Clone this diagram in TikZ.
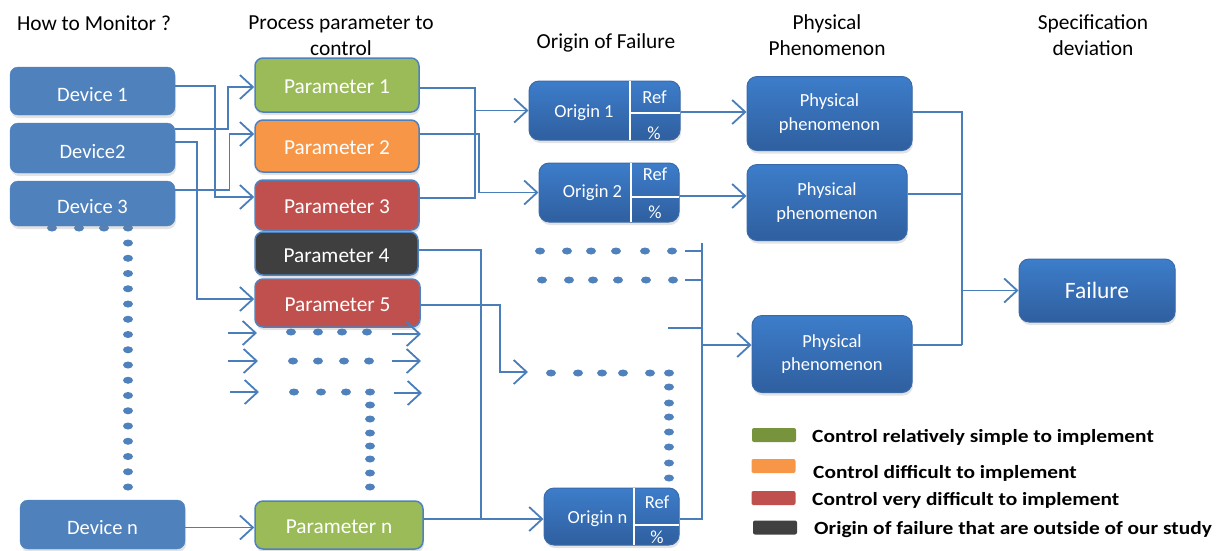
\documentclass[tikz,border=0pt]{standalone}
\usepackage{fontspec}
\setmainfont{Carlito}
\newfontfamily\legfont[FakeStretch=1.15]{Carlito}
\usetikzlibrary{arrows.meta,shadows,calc}
\definecolor{devblue}{HTML}{4F81BD}
\definecolor{linec}{HTML}{4A7EBB}
\definecolor{pgreen}{HTML}{9BBB59}
\definecolor{porange}{HTML}{F79646}
\definecolor{pred}{HTML}{C0504D}
\definecolor{pdark}{HTML}{3F3F3F}
\definecolor{gtop}{HTML}{3D7DCA}
\definecolor{gbot}{HTML}{2F5F9F}
\definecolor{gborder}{HTML}{3A6AAA}
\definecolor{lgreen}{HTML}{77933C}
\definecolor{ldark}{HTML}{404040}
\tikzset{
  shadowed/.style={drop shadow={opacity=0.22,shadow xshift=1pt,shadow yshift=-3pt}},
  devbox/.style={shadowed,fill=devblue,draw=devblue,rounded corners=8pt,text=white,inner sep=0pt,
    font=\fontsize{20.5}{24}\selectfont,text height=20pt,text depth=0pt},
  parbox/.style={shadowed,draw=devblue,line width=1.5pt,rounded corners=8pt,text=white,inner sep=0pt,
    font=\fontsize{21.3}{24}\selectfont,text height=17pt,text depth=0pt},
  gradbox/.style={shadowed,top color=gtop,bottom color=gbot,draw=gborder,line width=1pt,
    rounded corners=10pt,text=white,inner sep=0pt},
  pptext/.style={align=center,font=\fontsize{18.5}{23.5}\selectfont},
  otext/.style={text=white,font=\fontsize{18.5}{22}\selectfont,anchor=base,inner sep=0pt},
  header/.style={font=\fontsize{21.4}{25.5}\selectfont,align=center,anchor=base,inner sep=0pt},
  conn/.style={draw=linec,line width=1.8pt},
  arr/.style={conn,-{Straight Barb[length=13pt,width=24pt]}},
  divider/.style={draw=white,line width=1.6pt},
  swatch/.style={rounded corners=2pt,minimum width=44pt,minimum height=14pt,inner sep=0pt},
  legtext/.style={font=\fontsize{18.6}{22}\legfont\bfseries,anchor=base west,inner sep=0pt},
  dotc/.style={fill=devblue}
}
\begin{document}
\begin{tikzpicture}[x=1pt,y=-1pt]
\useasboundingbox (0,0) rectangle (1220,550);

% headers (base anchor = baseline of last line)
\node[header] (h1) at (94,30) {How to Monitor ?};
\node[header] (h2) at (341,55) {Process parameter to\\control};
\node[header] (h3) at (606,48) {Origin of Failure};
\node[header] (h4) at (827,55) {Physical\\Phenomenon};
\node[header] (h5) at (1093,55) {Specification\\deviation};

% dots under device 3
\foreach \x in {52,79,104,128} \fill[dotc] (\x,228) ellipse [x radius=5pt,y radius=3.5pt];
\foreach \i in {0,...,16} \fill[dotc] (128,243+\i*15.25) ellipse [x radius=5pt,y radius=3.5pt];

% devices
\node[devbox,minimum width=165pt,minimum height=48pt] (dev1) at (92.5,91) {Device 1};
\node[devbox,minimum width=165pt,minimum height=50pt] (dev2) at (92.5,148) {Device2};
\node[devbox,minimum width=165pt,minimum height=45pt] (dev3) at (92.5,203.5) {Device 3};
\node[devbox,minimum width=165pt,minimum height=49pt] (devn) at (102.5,524.5) {Device n};

% parameters
\node[parbox,fill=pgreen,minimum width=164pt,minimum height=54pt] (p1) at (337,85) {Parameter 1};
\node[parbox,fill=porange,minimum width=164pt,minimum height=52pt] (p2) at (337,146) {Parameter 2};
\node[parbox,fill=pred,minimum width=164pt,minimum height=50pt] (p3) at (337,205) {Parameter 3};
\node[parbox,fill=pdark,minimum width=163pt,minimum height=43pt] (p4) at (336.5,253.5) {Parameter 4};
\node[parbox,fill=pred,minimum width=165pt,minimum height=48pt] (p5) at (337.5,303) {Parameter 5};
\node[parbox,fill=pgreen,minimum width=168pt,minimum height=48pt] (pn) at (339,525) {Parameter n};

% dots beside parameters
\foreach \x in {291,318,342,367} \fill[dotc] (\x,332) ellipse [x radius=5pt,y radius=3.5pt];
\foreach \x in {293,318,344,369} \fill[dotc] (\x,361) ellipse [x radius=5pt,y radius=3.5pt];
\foreach \x in {294,321,346,370} \fill[dotc] (\x,392) ellipse [x radius=5pt,y radius=3.5pt];
\foreach \y in {405,419,433,446,459,473,487} \fill[dotc] (370,\y) ellipse [x radius=5pt,y radius=3.5pt];

% origin boxes
\node[gradbox,minimum width=151pt,minimum height=59pt] (o1) at (604.5,110.5) {};
\draw[divider] (630,81) -- (630,140);
\draw[divider] (630,113) -- (680,113);
\node[otext] (o1t) at (584,117) {Origin 1};
\node[otext] (o1r) at (654.5,103) {Ref};
\node[otext] (o1p) at (654,139) {\%};

\node[gradbox,minimum width=140pt,minimum height=59pt] (o2) at (609,192.5) {};
\draw[divider] (631,163) -- (631,222);
\draw[divider] (631,197) -- (679,197);
\node[otext] (o2t) at (592.5,197) {Origin 2};
\node[otext] (o2r) at (655,180) {Ref};
\node[otext] (o2p) at (655,218) {\%};

\node[gradbox,minimum width=135pt,minimum height=57pt] (on) at (611.5,516.5) {};
\draw[divider] (634,488) -- (634,545);
\draw[divider] (634,525) -- (679,525);
\node[otext] (ont) at (597.5,523) {Origin n};
\node[otext] (onr) at (657,508) {Ref};
\node[otext] (onp) at (657,543) {\%};

% dots in origin column
\foreach \x in {540,567,591,616,645,672} \fill[dotc] (\x,251) ellipse [x radius=5pt,y radius=3.5pt];
\foreach \x in {542,569,593,618,646,673} \fill[dotc] (\x,280) ellipse [x radius=5pt,y radius=3.5pt];
\foreach \x in {551,578,602,623,650,669} \fill[dotc] (\x,373) ellipse [x radius=5pt,y radius=3.5pt];
\foreach \y in {387,403,417,432,447,463,478} \fill[dotc] (669,\y) ellipse [x radius=5pt,y radius=3.5pt];

% physical phenomenon boxes and failure
\node[gradbox,pptext,minimum width=165pt,minimum height=74pt] (pp1) at (829.5,113.5) {Physical\\phenomenon};
\node[gradbox,pptext,minimum width=160pt,minimum height=76pt] (pp2) at (827,202.5) {Physical\\phenomenon};
\node[gradbox,pptext,minimum width=160pt,minimum height=77pt] (pp3) at (832,354) {Physical\\phenomenon};
\node[gradbox,minimum width=156pt,minimum height=63pt,font=\fontsize{23.5}{26}\selectfont] (fail) at (1097,290.5) {Failure};

% junction coordinates
\coordinate (k1) at (215,197);
\coordinate (k2) at (228,87);
\coordinate (k3) at (197,299);
\coordinate (k4) at (229.5,134);
\coordinate (k5) at (475,110.5);
\coordinate (k7) at (479,192.5);
\coordinate (k8) at (481,519);
\coordinate (k10) at (500,372);
\coordinate (dend) at (528,372);
\coordinate (q2) at ([yshift=6.5pt]pp2.west);
\coordinate (bt) at (702,243);
\coordinate (s1) at (685,251);
\coordinate (s2) at (685,280);
\coordinate (s3) at (668,328);
\coordinate (q3) at ([yshift=9pt]pp3.west);
\coordinate (fb) at (962,345);

% small arrows next to parameter dots
\coordinate (la1) at (228,333); \coordinate (lb1) at (257,333);
\coordinate (la2) at (228,361); \coordinate (lb2) at (258,361);
\coordinate (la3) at (230,392); \coordinate (lb3) at (259,392);
\coordinate (ra1) at (392,334); \coordinate (rb1) at (421,334);
\coordinate (ra2) at (392,361); \coordinate (rb2) at (421,361);
\coordinate (ra3) at (394,393); \coordinate (rb3) at (422,393);
\foreach \n in {1,2,3} {
  \draw[arr] (la\n) -- (lb\n);
  \draw[arr] (ra\n) -- (rb\n);
}

% device -> parameter
\draw[arr] ([yshift=5pt]dev1.east) -| (k1) -- ([yshift=8pt]p3.west);
\draw[arr] ([yshift=19pt]dev2.east) -| (k2) -- ([yshift=-2pt]p1.west);
\draw[arr] ([yshift=6pt]dev2.east) -| (k3) -- ([yshift=4pt]p5.west);
\draw[arr] ([yshift=13.5pt]dev3.east) -| (k4) -- ([yshift=12pt]p2.west);
\draw[arr] ([yshift=-3pt]devn.east) -- ([yshift=-3pt]devn.east -| pn.west);

% parameter -> origin
\draw[arr] ([yshift=-3pt]p1.east) -| (k5) -- (o1.west);
\draw[conn] ([yshift=7pt]p3.east) -| (k5);
\draw[arr] ([yshift=12pt]p2.east) -| (k7) -- (o2.west);
\draw[arr] ([yshift=3.5pt]p4.east) -| (k8) -- ([yshift=-2.5pt]on.west);
\draw[conn] ([yshift=6pt]pn.east) -- (k8);
\draw[arr] ([yshift=-2pt]p5.east) -| (k10) -- (dend);

% origin -> physical phenomenon
\draw[arr] ([yshift=1.5pt]pp1.west -| o1.east) -- ([yshift=1.5pt]pp1.west);
\draw[arr] (o2.east |- q2) -- (q2);
\draw[conn] ([yshift=-2.5pt]on.east) -| (bt);
\draw[conn] (s1) -- (s1 -| bt);
\draw[conn] (s2) -- (s2 -| bt);
\draw[conn] (s3) -- (s3 -| bt);
\draw[arr] (q3 -| bt) -- (q3);

% physical phenomenon -> failure
\draw[conn] ([yshift=1.5pt]pp1.east) -| (fb);
\draw[conn] ([yshift=8.5pt]pp2.east) -- ([yshift=8.5pt]pp2.east -| fb);
\draw[conn] ([yshift=9pt]pp3.east) -- (fb);
\draw[arr] (fail.west -| fb) -- (fail.west);

% legend
\node[swatch,fill=lgreen] (lg1) at (774,435) {};
\node[swatch,fill=porange] (lg2) at (773.5,466) {};
\node[swatch,fill=pred] (lg3) at (773.5,498) {};
\node[swatch,fill=ldark] (lg4) at (775,527.5) {};
\node[legtext] (lt1) at (812,442) {Control relatively simple to implement};
\node[legtext] (lt2) at (813,478) {Control difficult to implement};
\node[legtext] (lt3) at (812,505) {Control very difficult to implement};
\node[legtext] (lt4) at (814,534) {Origin of failure that are outside of our study};
\end{tikzpicture}
\end{document}
